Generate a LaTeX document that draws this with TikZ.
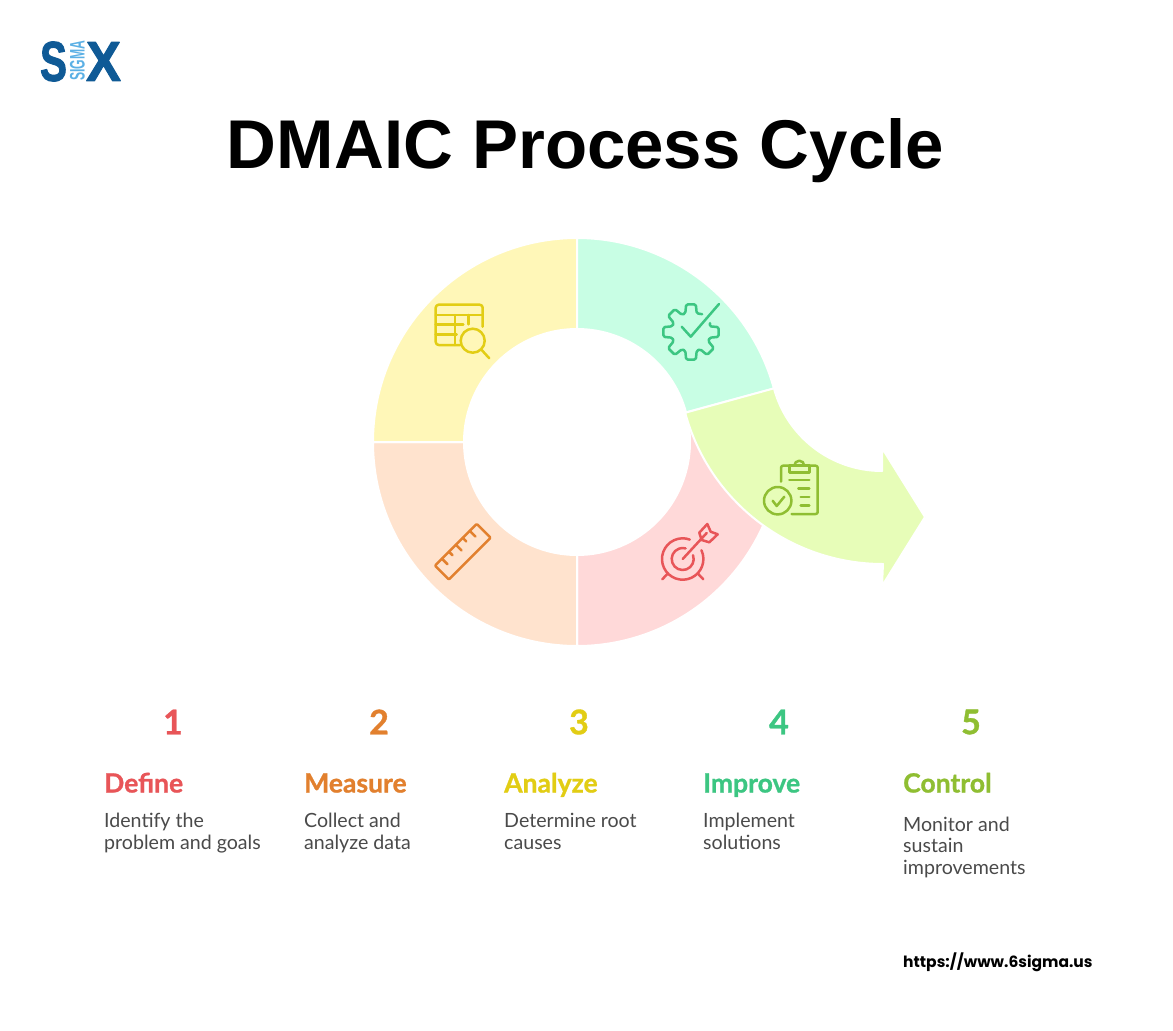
\documentclass[tikz,border=0pt]{standalone}
\usepackage{fontspec}
\setmainfont{Liberation Sans}
\newfontfamily\logofont[BoldFeatures={FakeBold=2}]{Liberation Sans}
\newfontfamily\handfont[BoldFeatures={FakeBold=1}]{Lato}
\newfontfamily\urlfont{Poppins}
\usetikzlibrary{calc}
\definecolor{redsoft}{HTML}{FFD9D9}
\definecolor{orangesoft}{HTML}{FFE3CE}
\definecolor{yellowsoft}{HTML}{FFF7B8}
\definecolor{mintsoft}{HTML}{C8FEE4}
\definecolor{limesoft}{HTML}{E7FDB8}
\definecolor{redink}{HTML}{E85558}
\definecolor{orangeink}{HTML}{E2802E}
\definecolor{yellowink}{HTML}{E2CD14}
\definecolor{mintink}{HTML}{3CC682}
\definecolor{limeink}{HTML}{8FBE32}
\definecolor{greyink}{HTML}{4A4A4A}
\definecolor{logodark}{HTML}{0F5A96}
\definecolor{logolight}{HTML}{5BB0E5}
\tikzset{
  every path/.style={line join=round,line cap=round},
  segment/.style={draw=white,line width=2pt},
  icon/.style={line width=2.5pt},
  numlabel/.style={anchor=center,font=\handfont\bfseries\fontsize{34}{34}\selectfont},
  steplabel/.style={anchor=base west,inner sep=0pt,font=\handfont\bfseries\fontsize{26.5}{26.5}\selectfont},
  bodylabel/.style={anchor=base west,inner sep=0pt,text=greyink,font=\handfont\fontsize{19.6}{21.5}\selectfont,align=left},
}

\begin{document}
\begin{tikzpicture}[x=1pt,y=-1pt]
  \useasboundingbox[fill=white] (0,0) rectangle (1173,1031);
  \coordinate (ring) at (577,442);
  \coordinate (bend) at (883,359);
  % logo
  \node[inner sep=0pt,text=logodark,xscale=.72,transform shape,font=\logofont\bfseries\fontsize{56}{56}\selectfont] (logoS) at (53.5,61.5) {S};
  \node[inner sep=0pt,text=logolight,rotate=90,xscale=.58,transform shape,font=\bfseries\fontsize{21}{21}\selectfont] (logoSigma) at (77.5,61) {SIGMA};
  \node[inner sep=0pt,text=logodark,xscale=.93,transform shape,font=\logofont\bfseries\fontsize{56}{56}\selectfont] (logoX) at (103.5,61.5) {X};
  \node[inner sep=0pt,anchor=base,font=\bfseries\fontsize{69}{69}\selectfont] (title) at (585.5,168) {DMAIC Process Cycle};
  % ring
  \draw[segment,fill=redsoft] (ring) ++(90:113) -- ++(90:91) arc(90:-15.2:204) -- ++(-15.2:-91) arc(-15.2:90:113) -- cycle;
  \draw[segment,fill=orangesoft] (ring) ++(90:113) -- ++(90:91) arc(90:180:204) -- ++(180:-91) arc(180:90:113) -- cycle;
  \draw[segment,fill=yellowsoft] (ring) ++(180:113) -- ++(180:91) arc(180:270:204) -- ++(270:-91) arc(270:180:113) -- cycle;
  \draw[segment,fill=mintsoft] (ring) ++(270:113) -- ++(270:91) arc(270:344.8:204) -- ++(344.8:-91) arc(344.8:270:113) -- cycle;
  \draw[segment,fill=limesoft] (bend) ++(164.8:205) arc(164.8:90:205) -- (882,586) -- (925,517) -- (882,448) -- (882,471) arc(90:164.8:112) -- cycle;
  % table icon
  \draw[icon,yellowink,rounded corners=3pt] (482.7,326.7) -- (482.7,304.7) -- (435.7,304.7) -- (435.7,345) -- (460,345);
  \draw[icon,yellowink] (435.7,315) -- (482.7,315);
  \draw[icon,yellowink] (435.7,324.3) -- (463.3,324.3);
  \draw[icon,yellowink] (435.7,334.3) -- (456.7,334.3);
  \draw[icon,yellowink] (455,315) -- (455,345);
  \draw[icon,yellowink] (468.3,315) -- (468.3,324.3);
  \draw[icon,yellowink] (472.7,340.7) circle[radius=12];
  \draw[icon,yellowink] (481.7,350) -- (489.3,358.3);
  % gear icon
  \draw[icon,mintink,rounded corners=1.5pt] (691,332) ++(-58:21) \foreach \a in {-90,-135,-180,-225,-270,-315,-360} { -- ($(691,332)+(\a+17:19.5)$) -- ($(691,332)+(\a+10:28)$) -- ($(691,332)+(\a-10:28)$) -- ($(691,332)+(\a-17:19.5)$) } -- ($(691,332)+(-385:21)$);
  \draw[icon,mintink] (681.7,326.7) -- (690.7,336.7) -- (719,304);
  % ruler icon
  \begin{scope}[shift={(462.8,551.7)},rotate=45]
    \draw[icon,orangeink,rounded corners=1pt] (-29.5,-9.8) rectangle (29.5,9.8);
    \draw[icon,orangeink] (-19.7,-9.8) -- (-19.7,-1.8);
    \draw[icon,orangeink] (-9.8,-9.8) -- (-9.8,-4.8);
    \draw[icon,orangeink] (0,-9.8) -- (0,-1.8);
    \draw[icon,orangeink] (9.8,-9.8) -- (9.8,-4.8);
    \draw[icon,orangeink] (19.7,-9.8) -- (19.7,-1.8);
  \end{scope}
  % target icon
  \draw[icon,redink] (682.7,559) ++(-25:20.7) arc(-25:290:20.7);
  \draw[icon,redink] (682.7,559) ++(-20:11) arc(-20:285:11);
  \draw[icon,redink] (682.7,559) -- (706.7,533);
  \draw[icon,redink] (699.3,532.7) -- (707.3,524) -- (710.7,531.7) -- (717.7,534.3) -- (709.3,542.3) -- (701.7,540) -- cycle;
  \draw[icon,redink] (667.3,574) -- (662.3,579.3);
  \draw[icon,redink] (698.3,574) -- (703.3,579.3);
  % clipboard icon
  \draw[icon,limeink,rounded corners=2pt] (781,481.7) -- (781,465.7) -- (817.7,465.7) -- (817.7,514) -- (791.7,514);
  \draw[icon,limeink] (789.3,465.7) rectangle (809.3,472.3);
  \draw[icon,limeink] (794.3,465.7) arc(180:360:5);
  \draw[icon,limeink] (789.3,480) -- (809.3,480);
  \draw[icon,limeink] (798.3,488.7) -- (809.3,488.7);
  \draw[icon,limeink] (800.7,497) -- (809.3,497);
  \draw[icon,limeink] (800.7,505.3) -- (809.3,505.3);
  \draw[icon,limeink] (777.7,500.7) circle[radius=13.7];
  \draw[icon,limeink] (772.7,500.7) -- (776.7,506) -- (784.3,496.7);
  % steps
  \node[numlabel,text=redink] (num1) at (173,722) {1};
  \node[numlabel,text=orangeink] (num2) at (379,722) {2};
  \node[numlabel,text=yellowink] (num3) at (579,722) {3};
  \node[numlabel,text=mintink] (num4) at (779,722) {4};
  \node[numlabel,text=limeink] (num5) at (971,722) {5};
  \node[steplabel,text=redink] (define) at (104,792.5) {Define};
  \node[steplabel,text=orangeink] (measure) at (304,792.5) {Measure};
  \node[steplabel,text=yellowink] (analyze) at (504,792.5) {Analyze};
  \node[steplabel,text=mintink] (improve) at (703,792.5) {Improve};
  \node[steplabel,text=limeink] (control) at (903,792.5) {Control};
  \node[bodylabel] (defineText) at (104,849) {Identify the\\problem and goals};
  \node[bodylabel] (measureText) at (304,849) {Collect and\\analyze data};
  \node[bodylabel] (analyzeText) at (504,849) {Determine root\\causes};
  \node[bodylabel] (improveText) at (703,849) {Implement\\solutions};
  \node[bodylabel] (controlText) at (903,874) {Monitor and\\sustain\\improvements};
  \node[anchor=base west,inner sep=0pt,font=\urlfont\bfseries\fontsize{15.5}{15.5}\selectfont] (url) at (903,967) {https://www.6sigma.us};
\end{tikzpicture}
\end{document}
